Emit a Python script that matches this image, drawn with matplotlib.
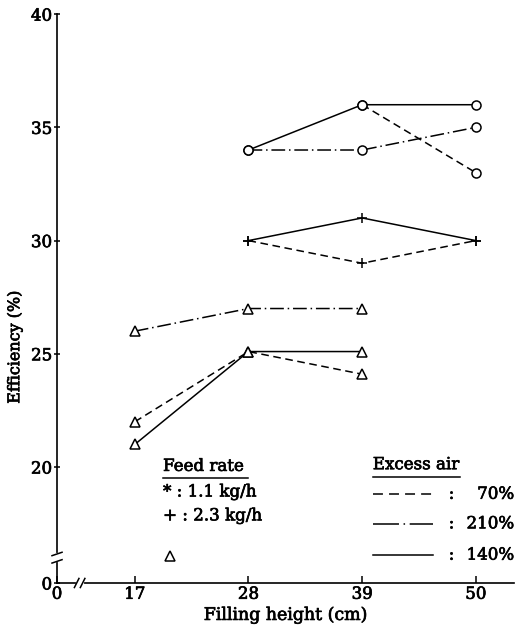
import numpy as np
import matplotlib
matplotlib.use("Agg")
import matplotlib.pyplot as plt
import matplotlib.patheffects as pe

# Filling height (cm) and efficiency (%)
heights = [17, 28, 39, 50]

circle_70 = [np.nan, np.nan, 36, 33]
circle_210 = [np.nan, 34, 34, 35]
circle_140 = [np.nan, 34, 36, 36]

plus_70 = [np.nan, 30, 29, 30]
plus_140 = [np.nan, 30, 31, 30]

tri_70 = [22, 25.1, 24.1, np.nan]
tri_210 = [26, 27, 27, np.nan]
tri_140 = [21, 25.1, 25.1, np.nan]

x_ticks = [0, 17, 28, 39, 50]
y_ticks = [0, 20, 25, 30, 35, 40]

feed_labels = ["* : 1.1 kg/h", "+ : 2.3 kg/h"]
air_labels = ["70%", "210%", "140%"]

# broken axes: squeeze 0-17 on x and 0-20 on y
X_BREAK, X_GAP = 17, 7.53
Y_BREAK, Y_GAP = 20, 5.12

DASHED = (0, (5, 3))
DASHDOT = (0, (9, 2.5, 1, 2.5))
SOLID = "-"

# scanned print looks heavier than plain DejaVu Serif
INK = [pe.withStroke(linewidth=0.5, foreground="black")]


def fwd_x(x):
    x = np.asarray(x, dtype=float)
    return np.where(x < X_BREAK, x * X_GAP / X_BREAK, x - X_BREAK + X_GAP)


def inv_x(t):
    t = np.asarray(t, dtype=float)
    return np.where(t < X_GAP, t * X_BREAK / X_GAP, t + X_BREAK - X_GAP)


def fwd_y(y):
    y = np.asarray(y, dtype=float)
    return np.where(y < Y_BREAK, y * Y_GAP / Y_BREAK, y - Y_BREAK + Y_GAP)


def inv_y(t):
    t = np.asarray(t, dtype=float)
    return np.where(t < Y_GAP, t * Y_BREAK / Y_GAP, t + Y_BREAK - Y_GAP)


def plot_series(ax, values, marker, style, ms=6.5):
    ax.plot(heights, values, color="black", lw=1.1, linestyle=style,
            marker=marker, ms=ms, mfc="white", mec="black", mew=1.1,
            clip_on=False, zorder=4)


def draw_breaks(ax):
    kw = dict(transform=ax.transAxes, clip_on=False)
    # y-axis break
    ax.plot([0, 0], [0.040, 0.049], color="white", lw=3, zorder=5, **kw)
    for y in (0.038, 0.051):
        ax.plot([-0.011, 0.011], [y - 0.003, y + 0.003], color="black", lw=1.1, zorder=6, **kw)
    # x-axis break
    ax.plot([0.045, 0.054], [0, 0], color="white", lw=3, zorder=5, **kw)
    for x in (0.043, 0.056):
        ax.plot([x - 0.005, x + 0.005], [-0.008, 0.008], color="black", lw=1.1, zorder=6, **kw)


def draw_legends(ax):
    tkw = dict(transform=ax.transAxes, fontsize=12, va="center", path_effects=INK)
    lkw = dict(transform=ax.transAxes, clip_on=False, color="black", lw=1.1)

    # feed rate block
    ax.text(0.232, 0.205, "Feed rate", **tkw)
    ax.plot([0.232, 0.418], [0.184, 0.184], **lkw)
    ax.text(0.232, 0.160, feed_labels[0], **tkw)
    ax.text(0.232, 0.118, feed_labels[1], **tkw)
    ax.plot([0.247], [0.047], marker="^", ms=6.5, mfc="white", mec="black",
            mew=1.1, transform=ax.transAxes, clip_on=False)

    # excess air block
    ax.text(0.691, 0.208, "Excess air", **tkw)
    ax.plot([0.691, 0.882], [0.186, 0.186], **lkw)
    rows = [0.156, 0.104, 0.049]
    styles = [(0, (6.5, 4)), (0, (17, 3, 1, 3)), SOLID]
    for y, style, label in zip(rows, styles, air_labels):
        ax.plot([0.691, 0.822], [y, y], linestyle=style, **lkw)
        ax.text(0.857, y, ":", **tkw)
        ax.text(1.0, y, label, ha="right", **tkw)


def main():
    plt.rcParams["font.family"] = ["DejaVu Serif"]

    fig = plt.figure(figsize=(5.17, 6.37), dpi=100)
    ax = fig.add_axes([0.1103, 0.0848, 0.884, 0.893])

    ax.set_xscale("function", functions=(fwd_x, inv_x))
    ax.set_yscale("function", functions=(fwd_y, inv_y))
    ax.set_xlim(0, 53.7)
    ax.set_ylim(0, 40)

    plot_series(ax, circle_140, "o", SOLID)
    plot_series(ax, circle_70, "o", DASHED)
    plot_series(ax, circle_210, "o", DASHDOT)
    plot_series(ax, plus_140, "+", SOLID, ms=7.5)
    plot_series(ax, plus_70, "+", DASHED, ms=7.5)
    plot_series(ax, tri_140, "^", SOLID)
    plot_series(ax, tri_70, "^", DASHED)
    plot_series(ax, tri_210, "^", DASHDOT)

    ax.set_xticks(x_ticks)
    ax.set_xticklabels([str(v) for v in x_ticks])
    ax.set_yticks(y_ticks)
    ax.set_yticklabels([str(v) for v in y_ticks])
    ax.minorticks_off()

    for side in ("top", "right"):
        ax.spines[side].set_visible(False)
    for side in ("left", "bottom"):
        ax.spines[side].set_linewidth(1.2)
    ax.tick_params(axis="x", direction="in", length=5, width=1.1, labelsize=12, pad=2)
    ax.tick_params(axis="y", direction="inout", length=5, width=1.1, labelsize=12, pad=1)
    for lbl in ax.get_xticklabels() + ax.get_yticklabels():
        lbl.set_path_effects(INK)

    ax.set_xlabel("Filling height (cm)", fontsize=12.5, labelpad=3, path_effects=INK)
    ax.set_ylabel("Efficiency (%)", fontsize=11.5, path_effects=INK)
    ax.yaxis.set_label_coords(-0.074, 0.415)

    draw_breaks(ax)
    draw_legends(ax)

    fig.savefig("out.png", dpi=100)


if __name__ == "__main__":
    main()
